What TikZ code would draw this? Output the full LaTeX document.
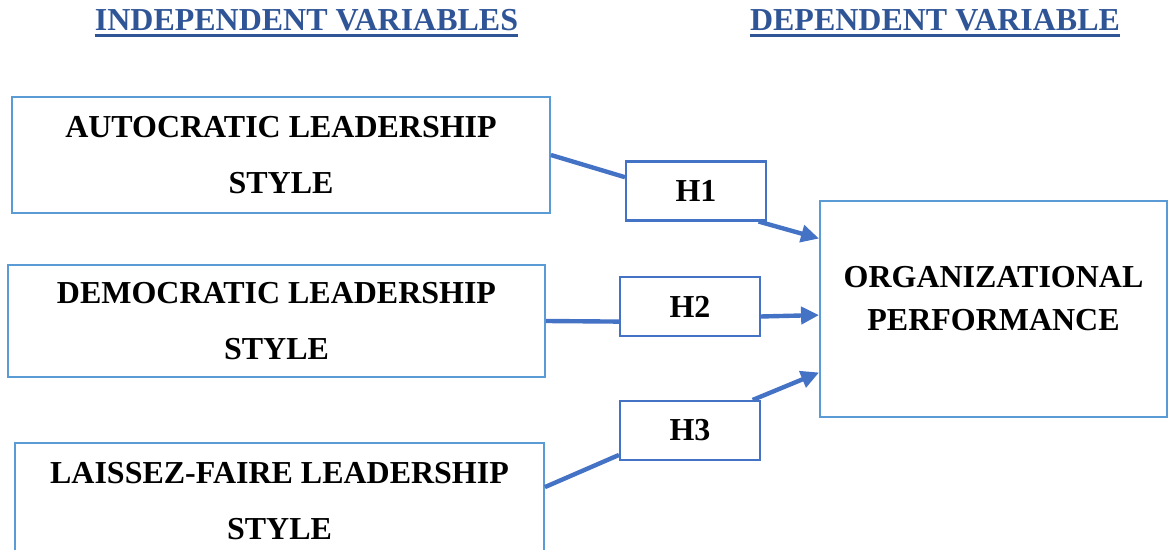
\documentclass[tikz,border=0pt]{standalone}
\usepackage{fontspec}
\setmainfont{Liberation Serif}
\usetikzlibrary{arrows.meta}

\definecolor{boxblue}{HTML}{5B9BD5}
\definecolor{linkblue}{HTML}{4472C4}
\definecolor{headblue}{HTML}{2F5597}

\tikzset{
  bigbox/.style={draw=boxblue, line width=1.1pt, inner sep=0pt, align=center,
    font=\fontsize{18.2}{31.9}\selectfont\bfseries},
  hbox/.style={draw=linkblue, line width=1.2pt, inner sep=0pt,
    minimum width=2.8cm, minimum height=1.18cm,
    font=\fontsize{18.2}{22}\selectfont\bfseries},
  link/.style={draw=linkblue, line width=2.5pt},
  arrowlink/.style={link, -{Triangle[length=0.36cm,width=0.34cm]}},
  heading/.style={text=headblue, inner sep=0pt, anchor=base,
    font=\fontsize{18.2}{22}\selectfont\bfseries},
  underbar/.style={headblue, line width=2.1pt}
}

\begin{document}
\begin{tikzpicture}[x=0.02cm, y=-0.02cm]
\useasboundingbox (0,0) rectangle (1168,550);
\clip (0,0) rectangle (1168,550);

% headings
\node[heading] (indep) at (306.5,31) {INDEPENDENT VARIABLES};
\node[heading] (dep) at (935,31) {DEPENDENT VARIABLE};
\draw[underbar] ([yshift=-0.09cm]indep.base west) -- ([yshift=-0.09cm]indep.base east);
\draw[underbar] ([yshift=-0.09cm]dep.base west) -- ([yshift=-0.09cm]dep.base east);

% leadership styles
\node[bigbox, minimum width=10.76cm, minimum height=2.32cm] (auto) at (281,155) {AUTOCRATIC LEADERSHIP\\STYLE};
\node[bigbox, minimum width=10.74cm, minimum height=2.24cm] (demo) at (276.5,321) {DEMOCRATIC LEADERSHIP\\STYLE};
\node[bigbox, minimum width=10.58cm, minimum height=2.32cm] (laissez) at (279.5,501) {LAISSEZ-FAIRE LEADERSHIP\\STYLE};

% hypotheses
\node[hbox] (h1) at (696,191) {H1};
\node[hbox] (h2) at (690,306.5) {H2};
\node[hbox] (h3) at (690,430.5) {H3};

% outcome
\node[draw=boxblue, line width=1.1pt, minimum width=6.94cm, minimum height=4.32cm] (org) at (993.5,309) {};
\node[inner sep=0pt, align=center, font=\fontsize{18.2}{24.5}\selectfont\bfseries] (orgtext) at (993.5,298.5) {ORGANIZATIONAL\\PERFORMANCE};

% links
\draw[link] (auto.east) -- (h1.169);
\draw[arrowlink] (h1.-26) -- (org.158);
\draw[link] (demo.east) -- (h2.192);
\draw[arrowlink] (h2.-8) -- (org.182);
\draw[link] (laissez.3) -- (h3.199);
\draw[arrowlink] (h3.26) -- (org.200);

\end{tikzpicture}
\end{document}
